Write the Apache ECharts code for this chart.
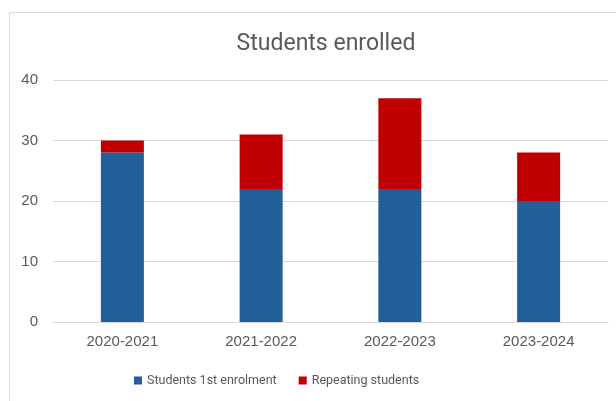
<!DOCTYPE html>
<html><head><meta charset="utf-8">
<script src="https://cdn.jsdelivr.net/npm/echarts@6/dist/echarts.min.js"></script>
<style>html,body{margin:0;padding:0;background:#fff}#c{width:616px;height:401px}</style>
</head><body><div id="c"></div>
<script>
var categories = ['2020-2021', '2021-2022', '2022-2023', '2023-2024'];
var firstEnrolment = [28, 22, 22, 20];
var repeating = [2, 9, 15, 8];
var seriesNames = ['Students 1st enrolment', 'Repeating students'];
var yTicks = { min: 0, max: 40, interval: 10 };

var chart = echarts.init(document.getElementById('c'), null, { renderer: 'canvas' });
chart.setOption({
  animation: false,
  backgroundColor: '#fff',
  graphic: [
    { type: 'polyline', shape: { points: [[9.5, 401], [9.5, 12.5], [616, 12.5]] },
      style: { stroke: '#d9d9d9', lineWidth: 1, fill: null }, silent: true }
  ],
  title: {
    text: 'Students enrolled',
    left: 321, top: 28, textAlign: 'center',
    textStyle: { fontFamily: 'Roboto', fontWeight: 'normal', fontSize: 23, color: '#595959' }
  },
  legend: {
    data: seriesNames,
    left: 129, top: 369,
    itemWidth: 8, itemHeight: 8, itemGap: 22, icon: 'rect',
    textStyle: { fontFamily: 'Roboto', fontSize: 12.5, color: '#595959' }
  },
  grid: { left: 53, right: 8, top: 80, bottom: 79, containLabel: false },
  xAxis: {
    type: 'category', data: categories,
    axisLine: { lineStyle: { color: '#d9d9d9' } },
    axisTick: { show: false },
    axisLabel: { fontFamily: 'Liberation Sans', fontSize: 15, color: '#595959', margin: 12 }
  },
  yAxis: {
    type: 'value', min: yTicks.min, max: yTicks.max, interval: yTicks.interval,
    axisLine: { show: false }, axisTick: { show: false },
    splitLine: { lineStyle: { color: '#d9d9d9' } },
    axisLabel: { fontFamily: 'Liberation Sans', fontSize: 15, color: '#595959', margin: 15 }
  },
  series: [
    { name: seriesNames[0], type: 'bar', stack: 's', data: firstEnrolment,
      barWidth: '31%', itemStyle: { color: '#215F9A' } },
    { name: seriesNames[1], type: 'bar', stack: 's', data: repeating,
      barWidth: '31%', itemStyle: { color: '#C00000' } }
  ]
});
</script></body></html>
